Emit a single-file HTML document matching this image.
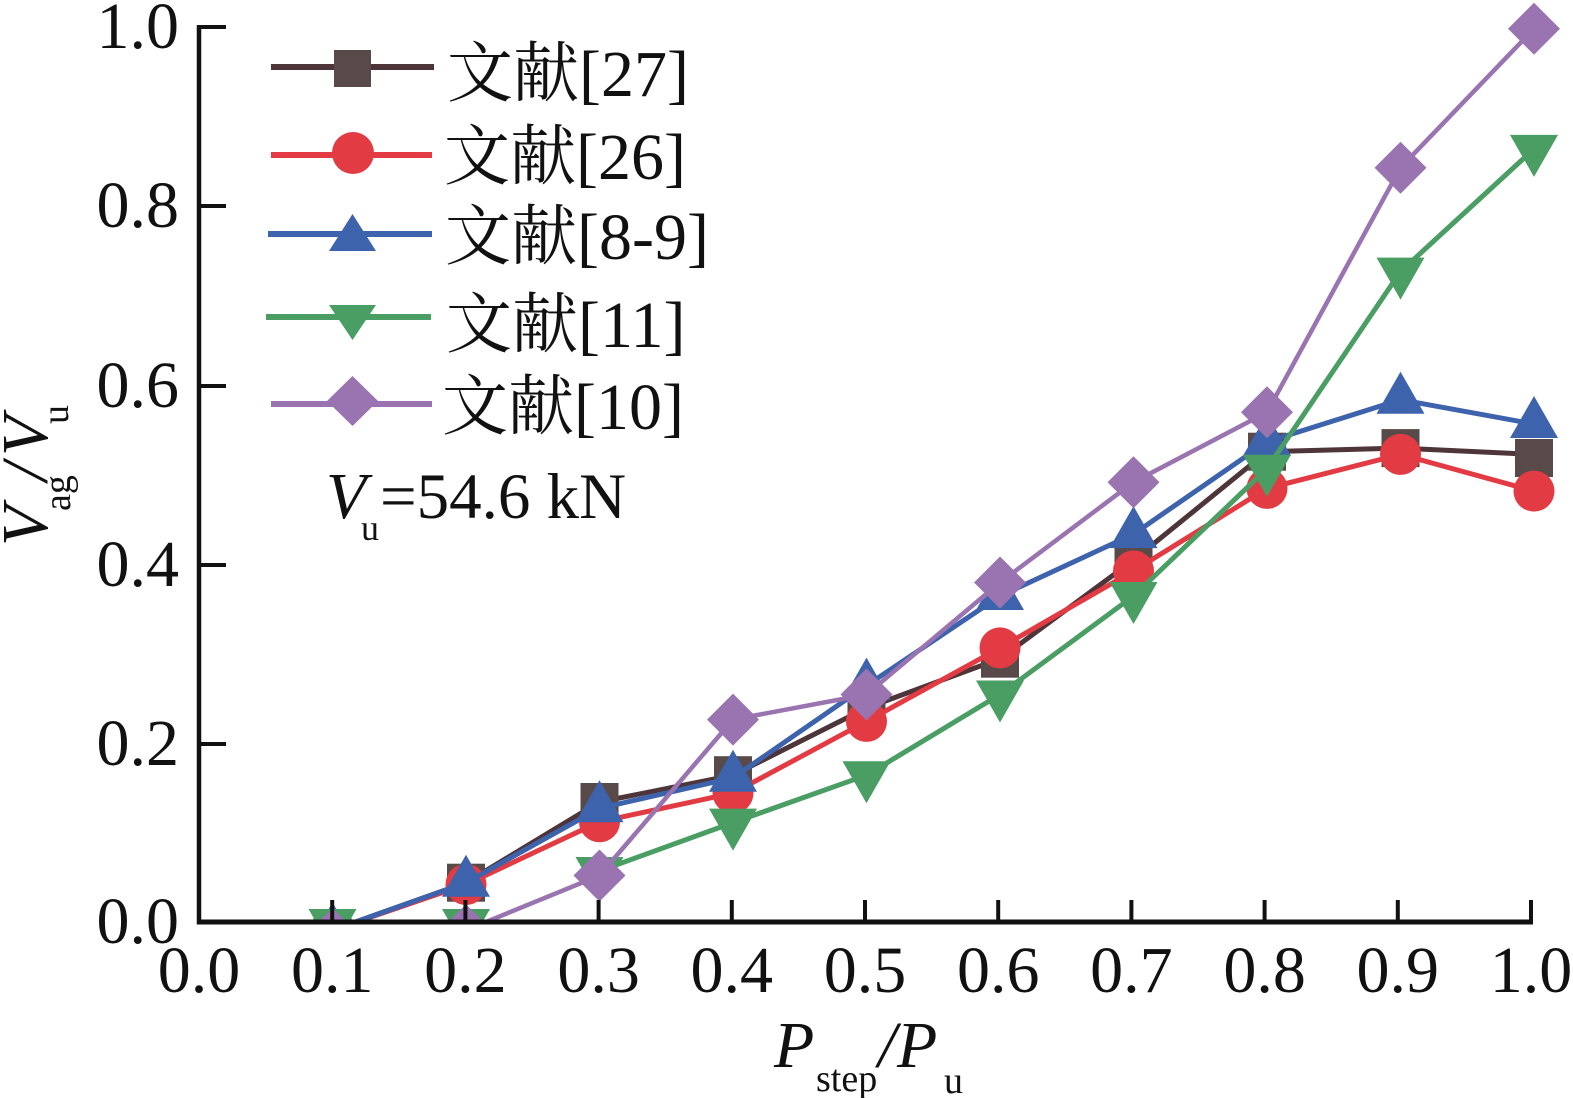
<!DOCTYPE html>
<html>
<head>
<meta charset="utf-8">
<style>
html,body{margin:0;padding:0;background:#fff;}
svg{display:block;}
text{font-family:"Liberation Serif","Noto Serif CJK SC",serif;fill:#111;}
</style>
</head>
<body>
<svg width="1573" height="1098" viewBox="0 0 1573 1098" xmlns="http://www.w3.org/2000/svg">
<defs>
<clipPath id="pc"><rect x="150" y="0" width="1423" height="919.5"/></clipPath>
<g id="sq"><rect x="-19" y="-19" width="38" height="38" fill="#574a48"/></g>
<g id="ci"><circle r="20.5" fill="#e33b43"/></g>
<g id="tu"><polygon points="0,-28 24,14 -24,14" fill="#3e63ad"/></g>
<g id="td"><polygon points="0,28 24,-14 -24,-14" fill="#4a9e63"/></g>
<g id="di"><polygon points="0,-26 26,0 0,26 -26,0" fill="#9a74b1"/></g>
</defs>

<g clip-path="url(#pc)">
<!-- 文献[27] brown -->
<polyline fill="none" stroke="#4d3539" stroke-width="5" stroke-linejoin="round"
 points="332.5,930.2 466,882.7 599.5,802 733,775.2 866.5,708 1000,658.7 1133.5,560.1 1267,451.7 1400.5,448.1 1534,454.4"/>
<use href="#sq" x="332.5" y="930.2"/><use href="#sq" x="466" y="882.7"/><use href="#sq" x="599.5" y="802"/>
<use href="#sq" x="733" y="775.2"/><use href="#sq" x="866.5" y="708"/><use href="#sq" x="1000" y="658.7"/>
<use href="#sq" x="1133.5" y="560.1"/><use href="#sq" x="1267" y="451.7"/><use href="#sq" x="1400.5" y="448.1"/>
<use href="#sq" x="1534" y="458"/>

<!-- 文献[26] red -->
<polyline fill="none" stroke="#e33b43" stroke-width="5" stroke-linejoin="round"
 points="332.5,930.2 466,884.5 599.5,821.8 733,793.1 866.5,721.4 1000,647.9 1133.5,570.9 1267,488.4 1400.5,454.4 1534,491.1"/>
<use href="#ci" x="332.5" y="930.2"/><use href="#ci" x="466" y="884.5"/><use href="#ci" x="599.5" y="821.8"/>
<use href="#ci" x="733" y="793.1"/><use href="#ci" x="866.5" y="721.4"/><use href="#ci" x="1000" y="647.9"/>
<use href="#ci" x="1133.5" y="570.9"/><use href="#ci" x="1267" y="488.4"/><use href="#ci" x="1400.5" y="454.4"/>
<use href="#ci" x="1534" y="491.1"/>

<!-- 文献[8-9] blue -->
<polyline fill="none" stroke="#3e63ad" stroke-width="5" stroke-linejoin="round"
 points="332.5,930.2 466,882.7 599.5,808.3 733,777.8 866.5,685.6 1000,596 1133.5,534.1 1267,441.8 1400.5,399.7 1534,424"/>
<use href="#tu" x="332.5" y="930.2"/><use href="#tu" x="466" y="882.7"/><use href="#tu" x="599.5" y="808.3"/>
<use href="#tu" x="733" y="777.8"/><use href="#tu" x="866.5" y="685.6"/><use href="#tu" x="1000" y="596"/>
<use href="#tu" x="1133.5" y="534.1"/><use href="#tu" x="1267" y="441.8"/><use href="#tu" x="1400.5" y="399.7"/>
<use href="#tu" x="1534" y="424"/>

<!-- 文献[11] green -->
<polyline fill="none" stroke="#4a9e63" stroke-width="5" stroke-linejoin="round"
 points="599.5,871 733,822.6 866.5,775.2 1000,694.5 1133.5,596 1267,468.7 1400.5,271.6 1534,148.9"/>
<use href="#td" x="332.5" y="923"/><use href="#td" x="466" y="923"/><use href="#td" x="599.5" y="871"/>
<use href="#td" x="733" y="822.6"/><use href="#td" x="866.5" y="775.2"/><use href="#td" x="1000" y="694.5"/>
<use href="#td" x="1133.5" y="596"/><use href="#td" x="1267" y="468.7"/><use href="#td" x="1400.5" y="271.6"/>
<use href="#td" x="1534" y="148.9"/>

<!-- 文献[10] purple -->
<polyline fill="none" stroke="#9a74b1" stroke-width="4.5" stroke-linejoin="round"
 points="332.5,934 466,930.2 599.5,875.5 733,719.6 866.5,694.5 1000,582.5 1133.5,482.2 1267,412.3 1400.5,167.7 1534,28.8"/>
<use href="#di" x="332.5" y="934"/><use href="#di" x="466" y="930.2"/><use href="#di" x="599.5" y="875.5"/>
<use href="#di" x="733" y="719.6"/><use href="#di" x="866.5" y="694.5"/><use href="#di" x="1000" y="582.5"/>
<use href="#di" x="1133.5" y="482.2"/><use href="#di" x="1267" y="412.3"/><use href="#di" x="1400.5" y="167.7"/>
<use href="#di" x="1534" y="28.8"/>
</g>

<!-- axes -->
<g stroke="#111" fill="none">
<line x1="199" y1="25" x2="199" y2="924.5" stroke-width="4.5"/>
<line x1="197" y1="922" x2="1533" y2="922" stroke-width="5"/>
<g stroke-width="4">
<line x1="199" y1="27" x2="226" y2="27"/>
<line x1="199" y1="206" x2="226" y2="206"/>
<line x1="199" y1="386" x2="226" y2="386"/>
<line x1="199" y1="565" x2="226" y2="565"/>
<line x1="199" y1="744" x2="226" y2="744"/>
<line x1="332.2" y1="922" x2="332.2" y2="900"/>
<line x1="465.4" y1="922" x2="465.4" y2="900"/>
<line x1="598.6" y1="922" x2="598.6" y2="900"/>
<line x1="731.8" y1="922" x2="731.8" y2="900"/>
<line x1="865" y1="922" x2="865" y2="900"/>
<line x1="998.2" y1="922" x2="998.2" y2="900"/>
<line x1="1131.4" y1="922" x2="1131.4" y2="900"/>
<line x1="1264.6" y1="922" x2="1264.6" y2="900"/>
<line x1="1397.8" y1="922" x2="1397.8" y2="900"/>
<line x1="1531" y1="922" x2="1531" y2="900"/>
</g>
</g>

<!-- y tick labels -->
<g font-size="66" text-anchor="end">
<text x="179" y="48">1.0</text>
<text x="179" y="227">0.8</text>
<text x="179" y="407">0.6</text>
<text x="179" y="586">0.4</text>
<text x="179" y="765">0.2</text>
<text x="179" y="943">0.0</text>
</g>

<!-- x tick labels -->
<g font-size="66" text-anchor="middle">
<text x="199" y="992">0.0</text>
<text x="332.2" y="992">0.1</text>
<text x="465.4" y="992">0.2</text>
<text x="598.6" y="992">0.3</text>
<text x="731.8" y="992">0.4</text>
<text x="865" y="992">0.5</text>
<text x="998.2" y="992">0.6</text>
<text x="1131.4" y="992">0.7</text>
<text x="1264.6" y="992">0.8</text>
<text x="1397.8" y="992">0.9</text>
<text x="1531" y="992">1.0</text>
</g>

<!-- x axis title -->
<text x="774" y="1067" font-size="66" font-style="italic">P</text>
<text x="816" y="1091" font-size="38">step</text>
<text x="878" y="1067" font-size="66" font-style="italic">/</text>
<text x="897" y="1067" font-size="66" font-style="italic">P</text>
<text x="944" y="1093" font-size="38">u</text>

<!-- y axis title -->
<text x="47" y="546" font-size="66" font-style="italic" transform="rotate(-90 47 546)">V</text>
<text x="70" y="511" font-size="38" transform="rotate(-90 70 511)">ag</text>
<text x="47" y="481" font-size="66" font-style="italic" transform="rotate(-90 47 481)">/</text>
<text x="47" y="456" font-size="66" font-style="italic" transform="rotate(-90 47 456)">V</text>
<text x="68" y="424" font-size="38" transform="rotate(-90 68 424)">u</text>

<!-- legend -->
<line x1="271" y1="67" x2="434" y2="67" stroke="#4d3539" stroke-width="6"/>
<rect x="334" y="50" width="37" height="37" fill="#574a48"/>
<line x1="271" y1="155" x2="432" y2="155" stroke="#e33b43" stroke-width="6"/>
<circle cx="353" cy="153" r="21" fill="#e33b43"/>
<line x1="268" y1="234" x2="432" y2="234" stroke="#3e63ad" stroke-width="6"/>
<polygon points="352.5,214 376,251 329,251" fill="#3e63ad"/>
<line x1="266" y1="317" x2="431" y2="317" stroke="#4a9e63" stroke-width="6"/>
<polygon points="352.5,340 376,305 329,305" fill="#4a9e63"/>
<line x1="271" y1="404" x2="432" y2="404" stroke="#9a74b1" stroke-width="6"/>
<polygon points="352.5,376 378,401 352.5,426 327,401" fill="#9a74b1"/>

<g font-size="66">
<text x="447" y="96">文献[27]</text>
<text x="444" y="179">文献[26]</text>
<text x="445" y="259">文献[8-9]</text>
<text x="446" y="347">文献[11]</text>
<text x="442" y="429">文献[10]</text>
</g>

<!-- annotation -->
<text x="326" y="518" font-size="66" font-style="italic">V</text>
<text x="361" y="540" font-size="36">u</text>
<text x="380" y="518" font-size="65">=54.6 kN</text>
</svg>
</body>
</html>
